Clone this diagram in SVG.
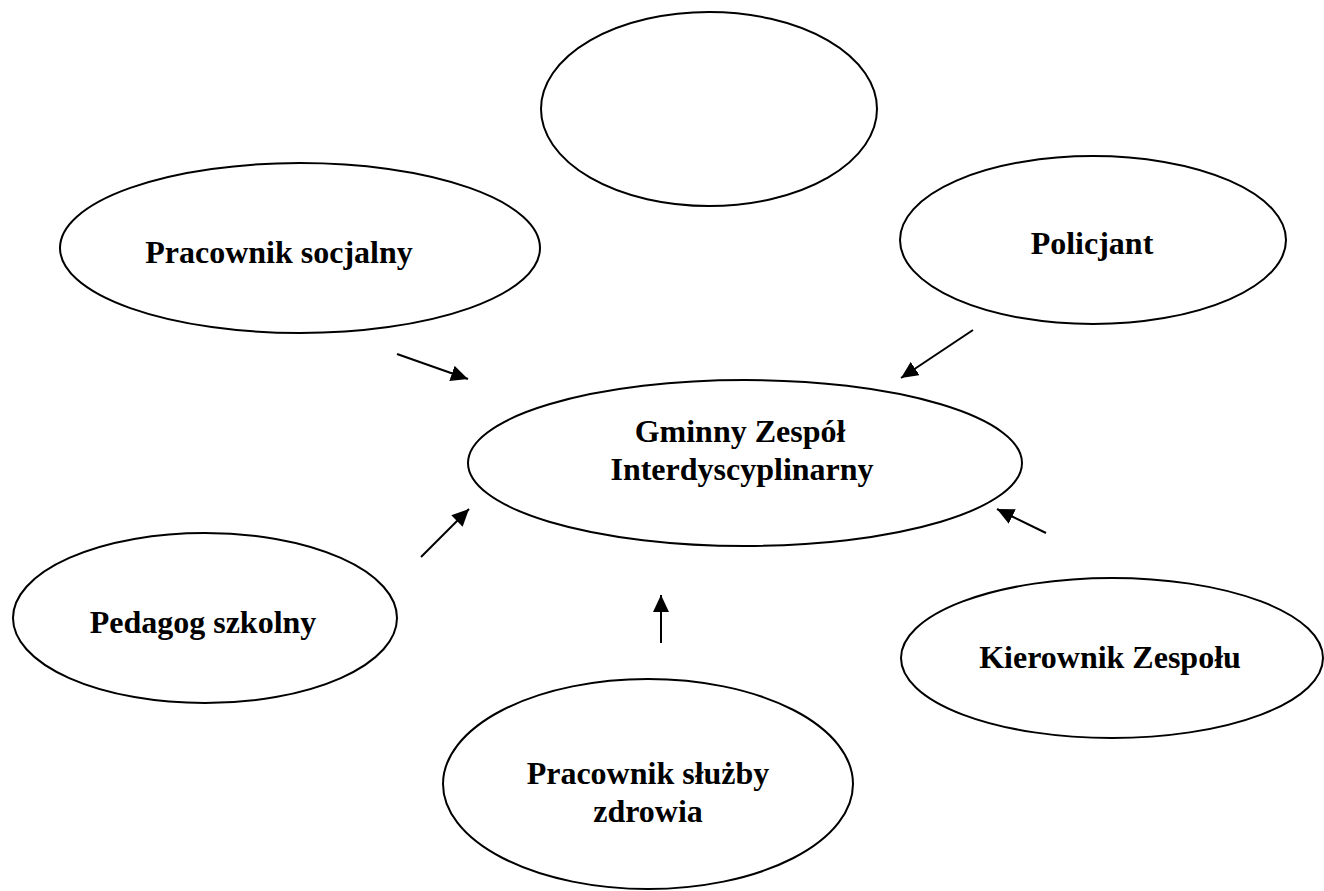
<svg xmlns="http://www.w3.org/2000/svg" width="1324" height="891" viewBox="0 0 1324 891">
<style>
.ell{fill:#ffffff;stroke:#000000;stroke-width:2}
.lbl{font-family:"Liberation Serif","Times New Roman",serif;font-weight:bold;font-size:32px;fill:#000000;text-anchor:middle}
.cn{stroke:#000000;stroke-width:2;fill:none}
</style>
<defs>
<marker id="ah" markerUnits="userSpaceOnUse" markerWidth="18" markerHeight="16" refX="17" refY="8" orient="auto">
<path d="M0,0 L17,8 L0,16 z" fill="#000000" stroke="none"/>
</marker>
</defs>
<rect x="0" y="0" width="1324" height="891" fill="#ffffff"/>
<g id="node-top"><ellipse class="ell" fill="#ffffff" stroke="#000000" stroke-width="2" cx="709" cy="109" rx="168" ry="97"/></g>
<g id="node-socjalny"><ellipse class="ell" fill="#ffffff" stroke="#000000" stroke-width="2" cx="300" cy="248" rx="240" ry="85"/><text class="lbl" font-family="Liberation Serif, Times New Roman, serif" font-weight="bold" font-size="32" text-anchor="middle" x="279" y="263">Pracownik socjalny</text></g>
<g id="node-policjant"><ellipse class="ell" fill="#ffffff" stroke="#000000" stroke-width="2" cx="1093" cy="240" rx="193" ry="84"/><text class="lbl" font-family="Liberation Serif, Times New Roman, serif" font-weight="bold" font-size="32" text-anchor="middle" x="1092" y="254">Policjant</text></g>
<g id="node-gzi"><ellipse class="ell" fill="#ffffff" stroke="#000000" stroke-width="2" cx="745" cy="463" rx="277" ry="83"/><text class="lbl" font-family="Liberation Serif, Times New Roman, serif" font-weight="bold" font-size="32" text-anchor="middle" x="740" y="442">Gminny Zespół</text><text class="lbl" font-family="Liberation Serif, Times New Roman, serif" font-weight="bold" font-size="32" text-anchor="middle" x="742" y="480">Interdyscyplinarny</text></g>
<g id="node-pedagog"><ellipse class="ell" fill="#ffffff" stroke="#000000" stroke-width="2" cx="205" cy="618" rx="192" ry="85"/><text class="lbl" font-family="Liberation Serif, Times New Roman, serif" font-weight="bold" font-size="32" text-anchor="middle" x="203" y="633">Pedagog szkolny</text></g>
<g id="node-kierownik"><ellipse class="ell" fill="#ffffff" stroke="#000000" stroke-width="2" cx="1112" cy="658" rx="211" ry="80"/><text class="lbl" font-family="Liberation Serif, Times New Roman, serif" font-weight="bold" font-size="32" text-anchor="middle" x="1110" y="668">Kierownik Zespołu</text></g>
<g id="node-zdrowie"><ellipse class="ell" fill="#ffffff" stroke="#000000" stroke-width="2" cx="648" cy="784" rx="205" ry="105"/><text class="lbl" font-family="Liberation Serif, Times New Roman, serif" font-weight="bold" font-size="32" text-anchor="middle" x="648" y="784">Pracownik służby</text><text class="lbl" font-family="Liberation Serif, Times New Roman, serif" font-weight="bold" font-size="32" text-anchor="middle" x="648" y="822">zdrowia</text></g>
<g id="connectors">
<line class="cn" stroke="#000000" stroke-width="2" marker-end="url(#ah)" x1="397" y1="354" x2="468" y2="379"/>
<line class="cn" stroke="#000000" stroke-width="2" marker-end="url(#ah)" x1="421" y1="557" x2="469" y2="509"/>
<line class="cn" stroke="#000000" stroke-width="2" marker-end="url(#ah)" x1="661" y1="643" x2="661" y2="595"/>
<line class="cn" stroke="#000000" stroke-width="2" marker-end="url(#ah)" x1="973" y1="330" x2="901" y2="378"/>
<line class="cn" stroke="#000000" stroke-width="2" marker-end="url(#ah)" x1="1046" y1="533" x2="997" y2="509"/>
</g>
</svg>
